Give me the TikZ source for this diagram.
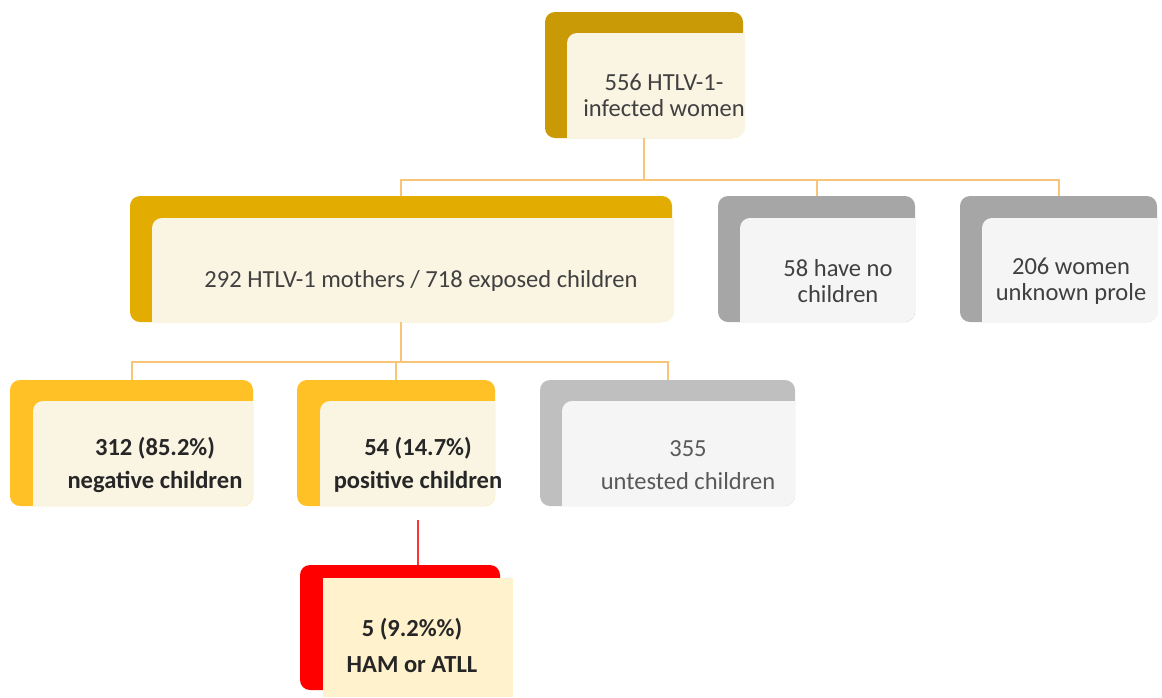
\documentclass[tikz,border=0pt]{standalone}
\usepackage{fontspec}
\setmainfont{Carlito}
\usetikzlibrary{fit,calc}

\definecolor{darkgold}{HTML}{C99A06}
\definecolor{midgold}{HTML}{E3AC00}
\definecolor{lightgold}{HTML}{FFC125}
\definecolor{darkgrey}{HTML}{A6A6A6}
\definecolor{lightgrey}{HTML}{BFBFBF}
\definecolor{alarm}{HTML}{FF0000}
\definecolor{cream}{HTML}{FAF4E3}
\definecolor{paper}{HTML}{F5F5F5}
\definecolor{pale}{HTML}{FFF2CC}
\definecolor{linkorange}{HTML}{F8C477}
\definecolor{ink}{HTML}{404040}

\tikzset{
  frame/.style={fill=#1, rounded corners=7.5pt, inner sep=0pt},
  % inner panel: round top left and bottom right only
  panel/.style={inner sep=0pt, path picture={
      \fill[#1] (path picture bounding box.south west)
        [rounded corners=7.5pt] -- (path picture bounding box.north west)
        [sharp corners] -- (path picture bounding box.north east)
        [rounded corners=7.5pt] -- (path picture bounding box.south east)
        [sharp corners] -- cycle;}},
  txt/.style={align=center, font=\fontsize{18.4}{19.5}\selectfont, text=ink},
  boldtxt/.style={txt, font=\fontsize{18.4}{19.5}\selectfont\bfseries, text=black!85},
  link/.style={draw=linkorange, line width=1.5pt},
  redlink/.style={draw=alarm!80, line width=1.5pt}
}

\begin{document}
\begin{tikzpicture}[x=0.75pt, y=-0.75pt]
      \useasboundingbox (0,0) rectangle (1162,697);
      % first level
      \node[frame=darkgold, fit={(545,12) (743,138)}] (women) {};
      \node[panel=cream, fit={(567,33) (745,138)}] (women-in) {};
      \node[txt] (women-t) at (664,95) {556 HTLV-1-\\infected women};
      % second level
      \node[frame=midgold, fit={(130,196) (672,322)}] (mothers) {};
      \node[panel=cream, fit={(152,218) (674,322)}] (mothers-in) {};
      \node[txt] (mothers-t) at (421,281) {292 HTLV-1 mothers / 718 exposed children};
      \node[frame=darkgrey, fit={(718,196) (915,322)}] (nochild) {};
      \node[panel=paper, fit={(740,218) (915,322)}] (nochild-in) {};
      \node[txt] (nochild-t) at (838,281) {58 have no\\children};
      \node[frame=darkgrey, fit={(960,196) (1157,322)}] (unknown) {};
      \node[panel=paper, fit={(982,218) (1158,322)}] (unknown-in) {};
      \node[txt] (unknown-t) at (1071,281) {206 women\\unknown prole};
      % third level
      \node[frame=lightgold, fit={(10,380) (253,506)}] (negative) {};
      \node[panel=cream, fit={(33,401) (253,506)}] (negative-in) {};
      \node[boldtxt] (negative-t) at (155,465) {312 (85.2\%)\\[5.25pt]negative children};
      \node[frame=lightgold, fit={(297,380) (495,506)}] (positive) {};
      \node[panel=cream, fit={(320,401) (495,506)}] (positive-in) {};
      \node[boldtxt] (positive-t) at (418,465) {54 (14.7\%)\\[5.25pt]positive children};
      \node[frame=lightgrey, fit={(540,380) (795,506)}] (untested) {};
      \node[panel=paper, fit={(562,401) (795,506)}] (untested-in) {};
      \node[txt, text=black!65] (untested-t) at (688,465) {355\\[5.25pt]untested children};
      % fourth level
      \node[frame=alarm, fit={(300,565) (500,690)}] (ham) {};
      \node[fill=pale, inner sep=0pt, fit={(323,578) (513,697)}] (ham-in) {};
      \node[boldtxt] (ham-t) at (412,645) {5 (9.2\%\%)\\[7.5pt]HAM or ATLL};
      % lines between levels
      \draw[link] (women.south) -- ++(0,42) -| (mothers.north);
      \draw[link] (women.south) -- ++(0,42) -| (nochild.north);
      \draw[link] (women.south) -- ++(0,42) -| (unknown.north);
      \draw[link] (mothers.south) -- ++(0,40) -| (negative.north);
      \draw[link] (mothers.south) -- ++(0,40) -| (positive.north);
      \draw[link] (mothers.south) -- ++(0,40) -| (untested.north);
      \draw[redlink] ($(positive.south)+(22,14)$) coordinate (r) -- (r |- ham.north);
\end{tikzpicture}
\end{document}
